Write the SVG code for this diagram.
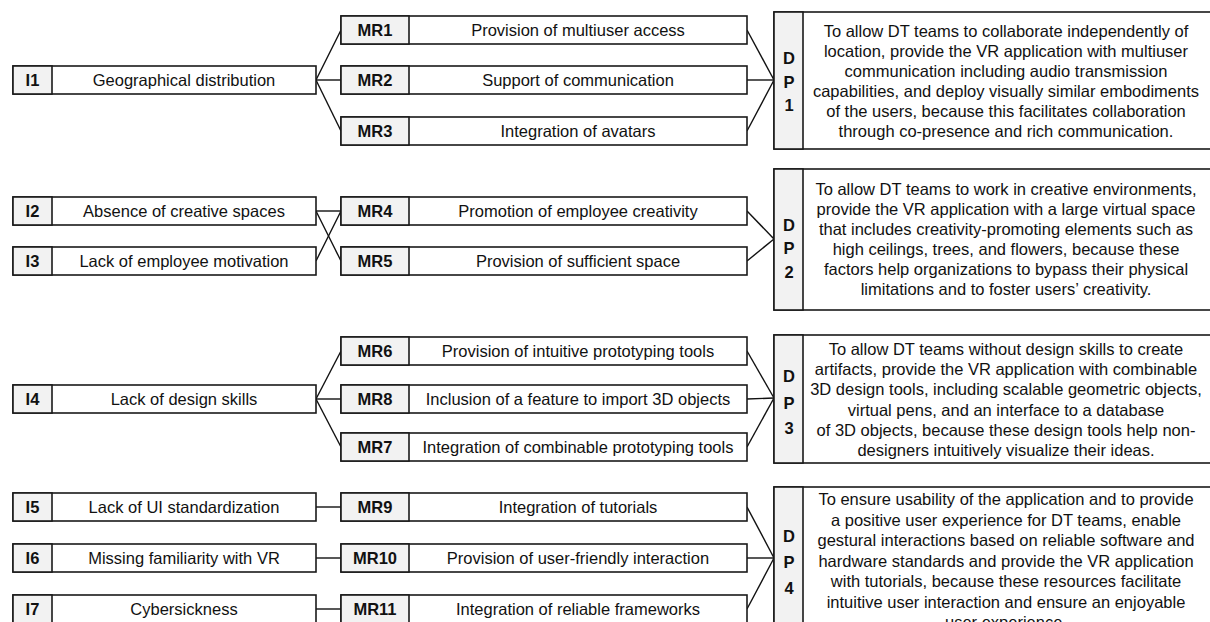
<svg xmlns="http://www.w3.org/2000/svg" width="1210" height="622" viewBox="0 0 1210 622">
<style>
.box{fill:#fff;stroke:#1a1a1a;stroke-width:1.6}
.lab{fill:#f2f2f2;stroke:#1a1a1a;stroke-width:1.6}
text{font-family:"Liberation Sans",Arial,sans-serif;font-size:16.5px;fill:#111;text-anchor:middle}
.b{font-weight:bold}
.c line{stroke:#111;stroke-width:1.4}
</style>
<rect width="1210" height="622" fill="#fff"/>

<g class="c" id="connectors">
<line x1="316" y1="80" x2="341" y2="30"/>
<line x1="316" y1="80" x2="341" y2="80"/>
<line x1="316" y1="80" x2="341" y2="131"/>
<line x1="747" y1="30" x2="774" y2="80"/>
<line x1="747" y1="80" x2="774" y2="80"/>
<line x1="747" y1="131" x2="774" y2="80"/>

<line x1="316" y1="211" x2="341" y2="211"/>
<line x1="316" y1="211" x2="341" y2="261"/>
<line x1="316" y1="261" x2="341" y2="211"/>
<line x1="747" y1="211" x2="774" y2="239"/>
<line x1="747" y1="261" x2="774" y2="239"/>

<line x1="316" y1="399" x2="341" y2="351"/>
<line x1="316" y1="399" x2="341" y2="399"/>
<line x1="316" y1="399" x2="341" y2="447"/>
<line x1="747" y1="351" x2="774" y2="398"/>
<line x1="747" y1="399" x2="774" y2="398"/>
<line x1="747" y1="447" x2="774" y2="398"/>

<line x1="316" y1="507" x2="341" y2="507"/>
<line x1="316" y1="558" x2="341" y2="558"/>
<line x1="316" y1="609" x2="341" y2="609"/>
<line x1="747" y1="507" x2="774" y2="558"/>
<line x1="747" y1="558" x2="774" y2="558"/>
<line x1="747" y1="609" x2="774" y2="558"/>
</g>

<!-- Issues -->
<g id="I1"><rect class="box" x="13" y="66" width="303" height="28"/><rect class="lab" x="13" y="66" width="39" height="28"/><text class="b" x="32.5" y="86">I1</text><text x="184" y="86">Geographical distribution</text></g>
<g id="I2"><rect class="box" x="13" y="197" width="303" height="28"/><rect class="lab" x="13" y="197" width="39" height="28"/><text class="b" x="32.5" y="217">I2</text><text x="184" y="217">Absence of creative spaces</text></g>
<g id="I3"><rect class="box" x="13" y="247" width="303" height="28"/><rect class="lab" x="13" y="247" width="39" height="28"/><text class="b" x="32.5" y="267">I3</text><text x="184" y="267">Lack of employee motivation</text></g>
<g id="I4"><rect class="box" x="13" y="385" width="303" height="28"/><rect class="lab" x="13" y="385" width="39" height="28"/><text class="b" x="32.5" y="405">I4</text><text x="184" y="405">Lack of design skills</text></g>
<g id="I5"><rect class="box" x="13" y="493" width="303" height="28"/><rect class="lab" x="13" y="493" width="39" height="28"/><text class="b" x="32.5" y="513">I5</text><text x="184" y="513">Lack of UI standardization</text></g>
<g id="I6"><rect class="box" x="13" y="544" width="303" height="28"/><rect class="lab" x="13" y="544" width="39" height="28"/><text class="b" x="32.5" y="564">I6</text><text x="184" y="564">Missing familiarity with VR</text></g>
<g id="I7"><rect class="box" x="13" y="595" width="303" height="28"/><rect class="lab" x="13" y="595" width="39" height="28"/><text class="b" x="32.5" y="615">I7</text><text x="184" y="615">Cybersickness</text></g>

<!-- Meta-requirements -->
<g id="MR1"><rect class="box" x="341" y="16" width="406" height="28"/><rect class="lab" x="341" y="16" width="68" height="28"/><text class="b" x="375" y="36">MR1</text><text x="578" y="36">Provision of multiuser access</text></g>
<g id="MR2"><rect class="box" x="341" y="66" width="406" height="28"/><rect class="lab" x="341" y="66" width="68" height="28"/><text class="b" x="375" y="86">MR2</text><text x="578" y="86">Support of communication</text></g>
<g id="MR3"><rect class="box" x="341" y="117" width="406" height="28"/><rect class="lab" x="341" y="117" width="68" height="28"/><text class="b" x="375" y="137">MR3</text><text x="578" y="137">Integration of avatars</text></g>
<g id="MR4"><rect class="box" x="341" y="197" width="406" height="28"/><rect class="lab" x="341" y="197" width="68" height="28"/><text class="b" x="375" y="217">MR4</text><text x="578" y="217">Promotion of employee creativity</text></g>
<g id="MR5"><rect class="box" x="341" y="247" width="406" height="28"/><rect class="lab" x="341" y="247" width="68" height="28"/><text class="b" x="375" y="267">MR5</text><text x="578" y="267">Provision of sufficient space</text></g>
<g id="MR6"><rect class="box" x="341" y="337" width="406" height="28"/><rect class="lab" x="341" y="337" width="68" height="28"/><text class="b" x="375" y="357">MR6</text><text x="578" y="357">Provision of intuitive prototyping tools</text></g>
<g id="MR8"><rect class="box" x="341" y="385" width="406" height="28"/><rect class="lab" x="341" y="385" width="68" height="28"/><text class="b" x="375" y="405">MR8</text><text x="578" y="405">Inclusion of a feature to import 3D objects</text></g>
<g id="MR7"><rect class="box" x="341" y="433" width="406" height="28"/><rect class="lab" x="341" y="433" width="68" height="28"/><text class="b" x="375" y="453">MR7</text><text x="578" y="453">Integration of combinable prototyping tools</text></g>
<g id="MR9"><rect class="box" x="341" y="493" width="406" height="28"/><rect class="lab" x="341" y="493" width="68" height="28"/><text class="b" x="375" y="513">MR9</text><text x="578" y="513">Integration of tutorials</text></g>
<g id="MR10"><rect class="box" x="341" y="544" width="406" height="28"/><rect class="lab" x="341" y="544" width="68" height="28"/><text class="b" x="375" y="564">MR10</text><text x="578" y="564">Provision of user-friendly interaction</text></g>
<g id="MR11"><rect class="box" x="341" y="595" width="406" height="28"/><rect class="lab" x="341" y="595" width="68" height="28"/><text class="b" x="375" y="615">MR11</text><text x="578" y="615">Integration of reliable frameworks</text></g>

<!-- Design principles -->
<g id="DP1"><rect class="box" x="774" y="12" width="440" height="137"/><rect class="lab" x="774" y="12" width="29" height="137"/>
<text class="b" x="789" y="64">D</text><text class="b" x="789" y="88">P</text><text class="b" x="789" y="111">1</text>
<text x="1006" y="36.5">To allow DT teams to collaborate independently of</text>
<text x="1006" y="56.6">location, provide the VR application with multiuser</text>
<text x="1006" y="76.7">communication including audio transmission</text>
<text x="1006" y="96.8">capabilities, and deploy visually similar embodiments</text>
<text x="1006" y="116.9">of the users, because this facilitates collaboration</text>
<text x="1006" y="137">through co-presence and rich communication.</text>
</g>
<g id="DP2"><rect class="box" x="774" y="169" width="440" height="141"/><rect class="lab" x="774" y="169" width="29" height="141"/>
<text class="b" x="789" y="231">D</text><text class="b" x="789" y="254">P</text><text class="b" x="789" y="278">2</text>
<text x="1006" y="195">To allow DT teams to work in creative environments,</text>
<text x="1006" y="215">provide the VR application with a large virtual space</text>
<text x="1006" y="235">that includes creativity-promoting elements such as</text>
<text x="1006" y="255">high ceilings, trees, and flowers, because these</text>
<text x="1006" y="275">factors help organizations to bypass their physical</text>
<text x="1006" y="295">limitations and to foster users’ creativity.</text>
</g>
<g id="DP3"><rect class="box" x="774" y="335" width="440" height="128"/><rect class="lab" x="774" y="335" width="29" height="128"/>
<text class="b" x="789" y="382">D</text><text class="b" x="789" y="409">P</text><text class="b" x="789" y="434">3</text>
<text x="1006" y="355">To allow DT teams without design skills to create</text>
<text x="1006" y="375.2">artifacts, provide the VR application with combinable</text>
<text x="1006" y="395.4">3D design tools, including scalable geometric objects,</text>
<text x="1006" y="415.6">virtual pens, and an interface to a database</text>
<text x="1006" y="435.8">of 3D objects, because these design tools help non-</text>
<text x="1006" y="456">designers intuitively visualize their ideas.</text>
</g>
<g id="DP4"><rect class="box" x="774" y="487" width="440" height="150"/><rect class="lab" x="774" y="487" width="29" height="150"/>
<text class="b" x="789" y="542">D</text><text class="b" x="789" y="568">P</text><text class="b" x="789" y="594">4</text>
<text x="1006" y="505">To ensure usability of the application and to provide</text>
<text x="1006" y="525.5">a positive user experience for DT teams, enable</text>
<text x="1006" y="546">gestural interactions based on reliable software and</text>
<text x="1006" y="566.5">hardware standards and provide the VR application</text>
<text x="1006" y="587">with tutorials, because these resources facilitate</text>
<text x="1006" y="607.5">intuitive user interaction and ensure an enjoyable</text>
<text x="1006" y="628">user experience.</text>
</g>
</svg>
